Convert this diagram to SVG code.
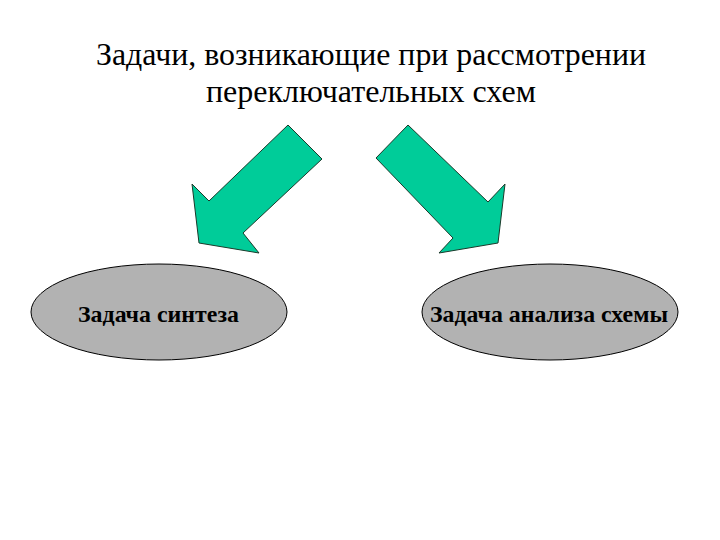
<svg xmlns="http://www.w3.org/2000/svg" width="720" height="540" viewBox="0 0 720 540">
<style>
.title{font-family:"Liberation Serif","DejaVu Serif",serif;font-size:32px;fill:#000;text-anchor:middle}
.lbl{font-family:"Liberation Serif","DejaVu Serif",serif;font-size:23px;font-weight:bold;fill:#000;text-anchor:middle}
.arrow{fill:#00CC99;stroke:#1a3a2a;stroke-width:1}
.node ellipse{fill:#B2B2B2;stroke:#000;stroke-width:1}
</style>
<rect width="720" height="540" fill="#fff"/>
<g id="title">
<text class="title" x="371" y="65" textLength="550" lengthAdjust="spacingAndGlyphs">Задачи, возникающие при рассмотрении</text>
<text class="title" x="371" y="102" textLength="330" lengthAdjust="spacingAndGlyphs">переключательных схем</text>
</g>
<g id="connectors">
<polygon class="arrow" points="288,125 322,159 243,233 259,253 199,243 192,184 209,201"/>
<polygon class="arrow" points="408,125 376,158 453,238 439,253 498,243 505,184 488,202"/>
</g>
<g id="node-synthesis" class="node">
<ellipse cx="159" cy="312" rx="128" ry="48"/>
<text class="lbl" x="158.5" y="322" textLength="161" lengthAdjust="spacingAndGlyphs">Задача синтеза</text>
</g>
<g id="node-analysis" class="node">
<ellipse cx="550" cy="312" rx="128" ry="48"/>
<text class="lbl" x="549" y="322" textLength="238" lengthAdjust="spacingAndGlyphs">Задача анализа схемы</text>
</g>
</svg>
